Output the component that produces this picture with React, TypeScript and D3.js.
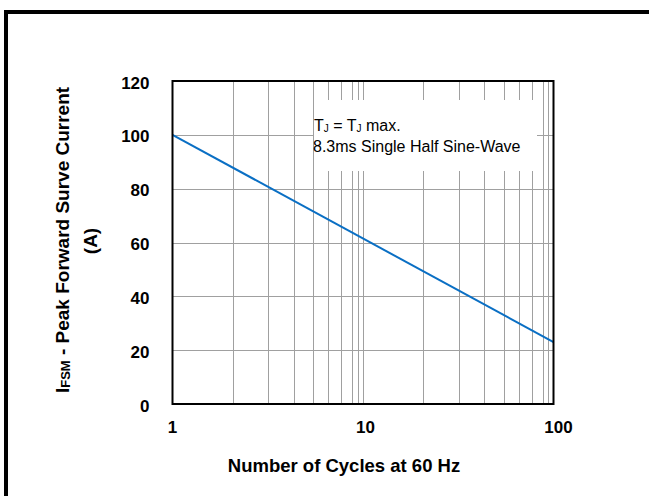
import React from 'react';
import * as d3 from 'd3';

// surge curve
const cycles = [1, 100];
const surgeCurrent = [100, 23];

const yTicks = [0, 20, 40, 60, 80, 100, 120];
const yGrid = [20, 40, 60, 80, 100];
const xTickLabels = [1, 10, 100];
// gridlines as drawn in the source (not exactly log-spaced)
const xGrid = [2.07, 3.18, 4.33, 5.46, 6.55, 7.7, 8.76, 9.38, 10, 20.7, 31.9, 43.1, 54.7, 65.8, 77, 87.6, 94];

const W = 649;
const H = 496;
const font = '"Liberation Sans", Arial, Helvetica, sans-serif';

const App: React.FC = () => {
    const plot = { left: 172.5, right: 553.5, top: 81, bottom: 404 };

    const x = d3.scaleLog().domain([1, 100]).range([plot.left, plot.right]);
    const y = d3.scaleLinear().domain([0, 120]).range([plot.bottom, plot.top]);

    const line = d3
        .line<number>()
        .x(d => x(cycles[d]))
        .y(d => y(surgeCurrent[d]));

    // annotation box (hides gridlines behind the text)
    const box = { x: 314, y: 100, w: 223, h: 71 };

    return (
        <div style={{ position: 'fixed', left: 0, top: 0 }}>
            <svg width={W} height={H} style={{ display: 'block', background: '#fff' }}>
                {/* outer frame */}
                <rect x={6} y={12} width={800} height={700} fill="none" stroke="#000" strokeWidth={4} />

                {/* gridlines */}
                <g stroke="#a0a0a0" strokeWidth={1}>
                    {xGrid.map(v => (
                        <line key={'xg' + v} x1={Math.round(x(v)) + 0.5} x2={Math.round(x(v)) + 0.5} y1={plot.top} y2={plot.bottom} />
                    ))}
                    {yGrid.map(v => (
                        <line key={'yg' + v} x1={plot.left} x2={plot.right} y1={Math.round(y(v)) + 0.5} y2={Math.round(y(v)) + 0.5} />
                    ))}
                </g>

                <rect x={box.x} y={box.y} width={box.w} height={box.h} fill="#fff" />

                {/* curve */}
                <path
                    d={line(d3.range(cycles.length)) || ''}
                    fill="none"
                    stroke="#0a6fc4"
                    strokeWidth={2}
                />

                {/* plot border */}
                <rect
                    x={plot.left}
                    y={plot.top}
                    width={plot.right - plot.left}
                    height={plot.bottom - plot.top}
                    fill="none"
                    stroke="#000"
                    strokeWidth={2}
                />

                {/* annotation text */}
                <g fontFamily={font} fontSize={16} fill="#000">
                    <text x={box.x} y={130.5}>
                        T<tspan fontSize={10} dy={1}>J</tspan>
                        <tspan dy={-1}> = T</tspan>
                        <tspan fontSize={10} dy={1}>J</tspan>
                        <tspan dy={-1}> max.</tspan>
                    </text>
                    <text x={box.x - 1} y={151.5}>8.3ms Single Half Sine-Wave</text>
                </g>

                {/* y tick labels */}
                <g fontFamily={font} fontSize={17} fontWeight="bold" fill="#000" textAnchor="end">
                    {yTicks.map(v => (
                        <text key={'yt' + v} x={149.5} y={y(v) + 7.5}>{v}</text>
                    ))}
                </g>

                {/* x tick labels */}
                <g fontFamily={font} fontSize={17} fontWeight="bold" fill="#000" textAnchor="middle">
                    {xTickLabels.map((v, i) => (
                        <text key={'xt' + v} x={x(v) + i * 2.5} y={432.5}>{v}</text>
                    ))}
                </g>

                {/* axis titles */}
                <text
                    x={344}
                    y={471.5}
                    fontFamily={font}
                    fontSize={18.5}
                    fontWeight="bold"
                    textAnchor="middle"
                >
                    Number of Cycles at 60 Hz
                </text>
                <g fontFamily={font} fontSize={19} fontWeight="bold" textAnchor="middle">
                    <text transform="translate(68.5,240) rotate(-90)">
                        I<tspan fontSize={13} dy={1}>FSM</tspan>
                        <tspan dy={-1}> - Peak Forward Surve Current</tspan>
                    </text>
                    <text transform="translate(97,241) rotate(-90)">(A)</text>
                </g>
            </svg>
        </div>
    );
};

export default App;
